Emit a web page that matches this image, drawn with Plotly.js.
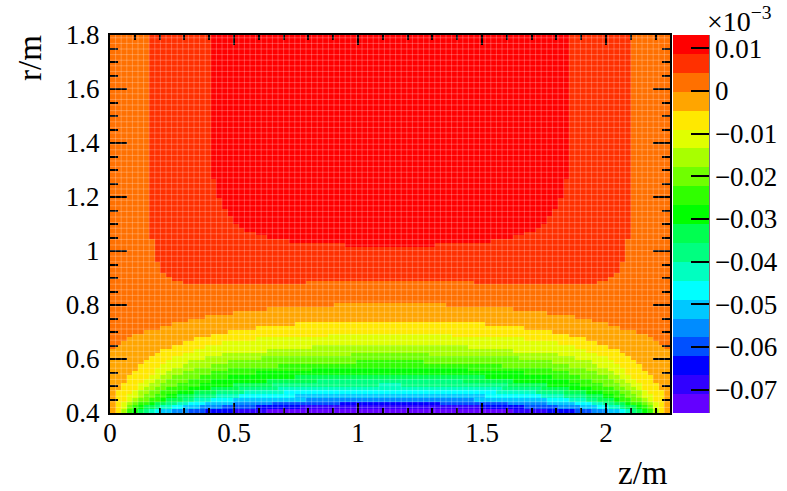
<!DOCTYPE html>
<html>
<head>
<meta charset="utf-8">
<script src="https://cdn.plot.ly/plotly-3.0.1.min.js"></script>
<style>html,body{margin:0;padding:0;background:#fff}#c{width:787px;height:491px}</style>
</head>
<body>
<div id="c"></div>
<script>
// Band colours of the palette, top of the colour bar first
var bandColors = ['#ff0000','#ff3000','#ff7000','#ffa500','#ffe800','#e0ff00','#a8ff00','#70ff00','#30ff00','#00ff00',
                  '#00ff50','#00ff80','#00ffc0','#00ffff','#00c8ff','#008cff','#0050ff','#0000ff','#3000ff','#6400ff'];
var zTop = 0.0131, zBottom = -0.0755;
var colorTicks = [0.01,0,-0.01,-0.02,-0.03,-0.04,-0.05,-0.06,-0.07];
var colorTickText = ['0.01','0','\u22120.01','\u22120.02','\u22120.03','\u22120.04','\u22120.05','\u22120.06','\u22120.07'];
var zMax = 2.258, rMin = 0.4, rMax = 1.8, nBins = 100;

// Bottom row of each colour band, per column, from z=0 to the centre (the map is mirror symmetric about the centre).
// 100 = band absent in that column.
var edge0  = [100,100,100,100,100,100,100,100,100,100,100,100,100,100,100,100,100,100,62,57,54,52,50,49,48,48,47,47,46,46,46,46,45,45,45,45,45,45,45,45,45,45,44,44,44,44,44,44,44,44];
var edge1  = [100,100,100,100,100,100,100,46,40,37,36,35,35,34,34,34,34,34,34,34,34,34,34,34,34,34,34,34,34,34,34,34,34,34,34,35,35,35,35,35,35,35,35,35,35,35,35,35,35,35];
var edge2  = [17,18,19,20,21,21,22,22,22,23,23,24,24,24,25,25,25,26,26,26,26,26,27,27,27,27,27,27,28,28,28,28,28,28,28,28,28,28,28,28,29,29,29,29,29,29,29,29,29,29];
var edge3  = [0,6,8,10,11,13,14,15,16,17,17,18,18,19,19,20,20,20,21,21,21,22,22,22,22,22,23,23,23,23,23,23,23,24,24,24,24,24,24,24,24,24,24,24,24,24,24,24,24,24];
var edge4  = [0,0,3,5,6,8,9,10,12,13,14,15,15,16,16,17,17,18,18,18,19,19,19,19,19,19,20,20,20,20,20,20,20,20,20,20,20,20,20,21,21,21,21,21,21,21,21,21,21,21];
var edge5  = [0,0,1,3,4,6,7,8,9,10,11,12,12,13,14,14,14,15,15,15,16,16,16,16,16,16,16,16,17,17,17,17,17,17,17,17,18,18,18,18,18,18,18,18,18,18,18,18,18,18];
var edge6  = [0,0,0,2,3,4,5,6,7,8,9,10,10,11,11,12,12,12,13,13,13,14,14,14,14,14,14,15,15,15,15,15,15,15,15,15,15,15,15,15,15,15,15,16,16,16,16,16,16,16];
var edge7  = [0,0,0,1,2,3,3,4,5,6,7,7,8,8,9,9,10,10,11,11,11,12,12,12,12,12,12,12,12,12,13,13,13,13,13,13,13,13,13,13,13,13,13,13,14,14,14,14,14,14];
var edge8  = [0,0,0,0,1,2,2,3,3,4,5,5,6,6,7,7,8,8,9,9,9,10,10,10,10,10,11,11,11,11,11,11,11,11,11,11,12,12,12,12,12,12,12,12,12,12,12,12,12,12];
var edge9  = [0,0,0,0,0,1,2,2,3,3,4,4,5,5,5,6,6,6,7,7,7,7,8,8,8,8,8,8,9,9,9,9,9,10,10,10,10,10,10,10,10,10,10,10,10,10,10,10,10,10];
var edge10 = [0,0,0,0,0,0,1,1,2,2,3,3,3,4,4,5,5,5,5,6,6,6,6,7,7,7,7,7,7,8,8,8,8,8,8,8,8,9,9,9,9,9,9,9,9,9,9,9,9,9];
var edge11 = [0,0,0,0,0,0,0,1,1,2,2,2,3,3,3,4,4,4,4,5,5,5,5,5,6,6,6,6,6,6,7,7,7,7,7,7,7,7,7,7,7,7,7,7,7,7,7,7,8,8];
var edge12 = [0,0,0,0,0,0,0,0,1,1,1,2,2,2,3,3,3,3,4,4,4,4,4,5,5,5,5,5,5,5,5,6,6,6,6,6,6,6,6,6,6,6,6,6,6,6,6,6,6,6];
var edge13 = [0,0,0,0,0,0,0,0,0,1,1,1,1,2,2,2,2,3,3,3,3,3,4,4,4,4,4,4,4,4,4,4,4,5,5,5,5,5,5,5,5,5,5,5,5,5,5,5,5,5];
var edge14 = [0,0,0,0,0,0,0,0,0,0,0,1,1,1,1,1,2,2,2,2,2,2,3,3,3,3,3,3,3,3,3,3,3,3,3,4,4,4,4,4,4,4,4,4,4,4,4,4,4,4];
var edge15 = [0,0,0,0,0,0,0,0,0,0,0,0,0,0,1,1,1,1,1,1,2,2,2,2,2,2,2,2,2,3,3,3,3,3,3,3,3,3,3,3,3,3,3,3,3,3,3,3,3,3];
var edge16 = [0,0,0,0,0,0,0,0,0,0,0,0,0,0,0,0,0,1,1,1,1,1,1,1,1,1,2,2,2,2,2,2,2,2,2,2,2,2,2,2,2,3,3,3,3,3,3,3,3,3];
var edge17 = [0,0,0,0,0,0,0,0,0,0,0,0,0,0,0,0,0,0,0,0,0,0,1,1,1,1,1,1,1,1,1,1,1,1,2,2,2,2,2,2,2,2,2,2,2,2,2,2,2,2];
var edge18 = [0,0,0,0,0,0,0,0,0,0,0,0,0,0,0,0,0,0,0,0,0,0,0,0,0,0,0,0,1,1,1,1,1,1,1,1,1,1,1,1,1,1,1,1,1,1,1,1,1,1];
var edges = [edge0,edge1,edge2,edge3,edge4,edge5,edge6,edge7,edge8,edge9,edge10,edge11,edge12,edge13,edge14,edge15,edge16,edge17,edge18];

var nBands = bandColors.length;
var bandStep = (zTop - zBottom) / nBands;
var dz = zMax / nBins, dr = (rMax - rMin) / nBins;

var xs = [], ys = [], grid = [];
for (var i = 0; i < nBins; i++) { xs.push((i + 0.5) * dz); ys.push(rMin + (i + 0.5) * dr); }
for (var j = 0; j < nBins; j++) {
  var row = [];
  for (var c = 0; c < nBins; c++) {
    var half = c < 50 ? c : 99 - c, band = nBands - 1;
    for (var k = 0; k < edges.length; k++) { if (j >= edges[k][half]) { band = k; break; } }
    row.push(zTop - (band + 0.5) * bandStep);
  }
  grid.push(row);
}

var scale = [];
bandColors.slice().reverse().forEach(function (col, idx) {
  scale.push([idx / nBands, col]);
  scale.push([(idx + 1) / nBands, col]);
});

// Pale seams of the original rendering
var seamX = dz, seamY = 0.02074, seamPath = '';
for (var sx = seamX; sx < zMax; sx += seamX) seamPath += 'M' + sx + ',' + rMin + 'L' + sx + ',' + rMax;
for (var sy = rMin + seamY; sy < rMax; sy += seamY) seamPath += 'M0,' + sy + 'L' + zMax + ',' + sy;

var serif = 'Liberation Serif';
var axisBase = {
  ticks: 'inside', tickwidth: 2, tickcolor: '#000', showline: true, linewidth: 2, linecolor: '#000',
  mirror: 'allticks', showgrid: false, zeroline: false, layer: 'above traces',
  tickfont: {family: serif, size: 27, color: '#000'}
};
var xaxis = Object.assign({}, axisBase, {
  range: [0, zMax], tickmode: 'array', tickvals: [0, 0.5, 1, 1.5, 2], ticktext: ['0', '0.5', '1', '1.5', '2'],
  ticklen: 10, ticklabelstandoff: -5,
  minor: {dtick: 0.1, tick0: 0, ticks: 'inside', ticklen: 5, tickwidth: 2, tickcolor: '#000', showgrid: false}
});
var yaxis = Object.assign({}, axisBase, {
  range: [rMin, rMax], dtick: 0.2, tick0: 0.4, ticklen: 17, ticklabelstandoff: 3,
  minor: {dtick: 0.05, tick0: 0.4, ticks: 'inside', ticklen: 8, tickwidth: 2, tickcolor: '#000', showgrid: false}
});

var trace = {
  type: 'heatmap', x: xs, y: ys, z: grid, zmin: zBottom, zmax: zTop, colorscale: scale, zsmooth: false,
  colorbar: {
    x: 1.0045, xanchor: 'left', xpad: 0, ypad: 0, y: 0.5, yanchor: 'middle', len: 1, lenmode: 'fraction',
    thickness: 36, thicknessmode: 'pixels', outlinewidth: 0, borderwidth: 0,
    tickmode: 'array', tickvals: colorTicks, ticktext: colorTickText, ticks: 'inside', ticklen: 18, tickwidth: 2, tickcolor: '#000',
    tickfont: {family: serif, size: 27, color: '#000'}
  }
};

var layout = {
  width: 787, height: 491, paper_bgcolor: '#fff', plot_bgcolor: '#fff', showlegend: false,
  margin: {l: 110, r: 117, t: 35, b: 78, pad: 0, autoexpand: false},
  xaxis: xaxis, yaxis: yaxis,
  shapes: [
    {type: 'path', xref: 'x', yref: 'y', path: seamPath, layer: 'above', line: {color: 'rgba(255,255,255,0.25)', width: 1}},
    {type: 'line', xref: 'paper', yref: 'paper', x0: 1.0688, x1: 1.0688, y0: 0, y1: 1, line: {color: '#000', width: 2}}
  ],
  annotations: [
    {text: 'z/m', xref: 'paper', yref: 'paper', x: 1, y: -0.105, xanchor: 'right', yanchor: 'top', showarrow: false,
     font: {family: serif, size: 33, color: '#000'}},
    {text: 'r/m', xref: 'paper', yref: 'paper', x: -0.143, y: 1.005, xanchor: 'center', yanchor: 'top', showarrow: false, textangle: -90,
     font: {family: serif, size: 33, color: '#000'}},
    {text: '\u00d710<sup>\u22123</sup>', xref: 'paper', yref: 'paper', x: 1.0625, y: 0.99, xanchor: 'left', yanchor: 'bottom', showarrow: false,
     font: {family: serif, size: 28, color: '#000'}}
  ]
};
Plotly.newPlot('c', [trace], layout, {staticPlot: true, displayModeBar: false});
</script>
</body>
</html>
